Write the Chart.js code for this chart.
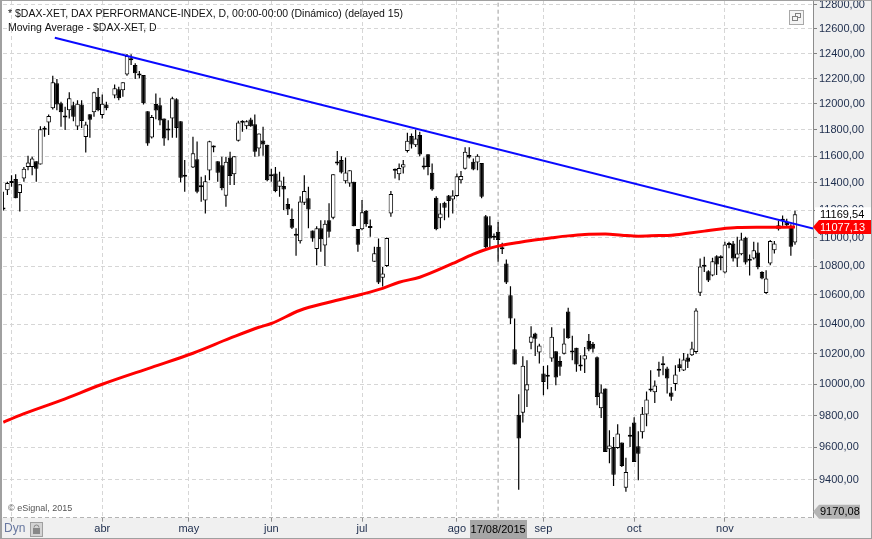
<!DOCTYPE html>
<html><head><meta charset="utf-8">
<style>html,body{margin:0;padding:0;background:#fff;overflow:hidden}#c{display:block}</style>
<script src="https://cdn.jsdelivr.net/npm/chart.js@4.4.1/dist/chart.umd.min.js"></script>
</head><body>
<canvas id="c" width="872" height="539"></canvas>
<script>
// Daily candles, one slot per trading day (26 Feb 2015 = slot 0); null = empty holiday slot
const opens  = [11212,11345,11400,11428,11325,11433,11519,11519,11562,11537,11800,11857,11966,12162,12005,11895,11952,11991,11826,11997,11745,11921,11935,12057,11914,11997,null,12066,12115,12107,12233,12362,12308,12225,12228,11943,11742,11999,11991,11888,11795,11888,12038,11866,11445,null,11515,11577,11375,11271,11492,11665,11562,11532,11305,11590,11465,11717,11855,11828,11879,11843,11658,11719,11687,11450,11470,11371,11377,11244,11135,11015,10975,11254,11286,11053,10920,11068,10946,11126,11144,11545,11570,11413,11396,11408,11063,11061,11195,11070,10830,10937,10719,10801,11176,11490,11465,11514,11638,11752,11683,11760,11515,11615,11475,11290,11141,11254,11307,11278,11303,11420,11506,11608,11557,11552,11549,11156,11091,11000,11043,10925,10818,10597,10231,9805,9818,9960,10275,10337,10209,10072,10050,10170,10218,10153,10202,10486,10210,10242,10117,10163,10288,10268,10178,9847,9973,9587,9601,9595,9629,9351,9665,9756,9606,9694,9806,9960,9949,10090,10125,10104,9948,10003,10132,10091,10176,10191,10213,10615,10795,10764,10734,10869,10855,10755,10948,10960,10853,10884,11000,10838,10853,10896,10759,10612,10818,10912,11061,11122,11114,11087,10967];
const highs  = [11335,11408,11457,11465,11389,11519,11602,11595,11562,11828,11828,11919,12222,12196,12017,11979,12091,12017,12030,12030,11862,11921,12096,12125,12075,12017,null,12154,12136,12170,12396,12394,12322,12260,12228,11943,11914,12082,12049,11888,11874,12057,12044,11866,11570,null,11747,11710,11445,11457,11717,11680,11562,11595,11595,11633,11600,11870,11874,11874,11893,11919,11772,11823,11687,11506,11519,11482,11445,11286,11212,11068,11301,11457,11371,11053,11083,11126,11126,11250,11465,11638,11600,11590,11495,11408,11063,11273,11200,11131,10937,10996,10794,11003,11340,11507,11544,11570,11777,11772,11803,11785,11590,11615,11544,11301,11250,11261,11310,11345,11470,11489,11667,11667,11583,11615,11549,11164,11156,11031,11114,10965,10846,10659,10438,9936,10185,10159,10386,10342,10268,10121,10126,10379,10218,10185,10370,10511,10322,10242,10191,10246,10334,10279,10183,10000,9973,9707,9664,9744,9629,9535,9729,9789,9700,9855,9954,10093,10025,10148,10185,10115,9984,10126,10170,10207,10202,10282,10507,10854,10866,10771,10858,10876,10876,10972,10972,10977,11007,11036,11007,10882,10972,10967,10764,10771,10984,10977,11122,11160,11138,11097,11195];
const lows   = [11198,11310,11371,11286,11190,11408,11495,11457,11408,11537,11747,11760,11958,11951,11823,11798,11888,11866,11798,11815,11628,11739,11901,11944,11888,11952,null,12044,12030,12057,12222,12308,12196,12202,11997,11678,11734,11882,11836,11678,11721,11739,11739,11404,11335,null,11510,11323,11261,11176,11420,11630,11408,11345,11224,11384,11384,11710,11785,11805,11823,11595,11600,11602,11413,11408,11330,11298,11200,11164,11063,10873,10960,11237,11068,10972,10805,10901,10801,11003,11133,11532,11470,11396,11371,11083,10901,11055,11079,11007,10830,10675,10657,10794,11151,11433,11420,11470,11628,11658,11670,11600,11500,11457,11342,11055,11068,11126,11146,11176,11298,11396,11500,11583,11495,11495,11286,10925,10925,10984,10830,10885,10675,10401,10130,9338,9755,9855,10231,10187,10137,9930,9969,10148,9995,10056,10197,10301,10159,10082,10089,10075,10218,10209,9866,9784,9570,9500,9361,9591,9478,9326,9601,9508,9396,9654,9732,9952,9880,10050,10060,9941,9894,9959,10082,10087,10108,10187,10202,10592,10759,10689,10729,10738,10771,10747,10925,10832,10794,10877,10811,10734,10846,10778,10708,10606,10806,10889,11053,11087,11078,10873,10950];
const closes = [11205,11400,11410,11286,11389,11506,11552,11583,11506,11805,11805,11906,12170,11997,11935,11905,12044,11901,12002,11869,11842,11877,12091,11952,12002,11966,null,12123,12044,12170,12380,12346,12243,12230,12005,11696,11898,11950,11872,11734,11811,12044,11815,11438,11455,null,11621,11335,11368,11413,11713,11670,11475,11360,11557,11452,11600,11856,11862,11866,11828,11633,11772,11689,11420,11460,11340,11418,11352,11205,11072,11020,11262,11340,11205,10996,11068,10989,11102,11043,11465,11552,11478,11478,11495,11083,10951,11185,11097,11078,10890,10685,10747,10998,11318,11498,11511,11539,11717,11688,11734,11613,11522,11519,11352,11061,11176,11217,11266,11307,11450,11452,11633,11590,11500,11602,11298,10932,10996,11006,10984,10918,10685,10438,10130,9654,10123,10001,10317,10301,10256,10016,10060,10315,10045,10116,10270,10305,10216,10130,10130,10191,10229,10235,9918,9948,9570,9611,9429,9686,9484,9446,9672,9508,9559,9812,9902,9968,9993,10096,10132,10038,9920,10065,10108,10163,10148,10236,10493,10797,10805,10699,10834,10811,10862,10953,10955,10853,10889,10988,10825,10846,10912,10792,10713,10713,10977,10960,11090,11130,11090,10937,11169.54];

// 200-day moving average
const maSlots  = [0,4,14,24,36,46,55,62,65,72,79,87,92,96,101,109,114,117,120,125,128,133,137,141,146,150,154,159,162,166,170,174,178,184,192];
const maValues = [9757,9801,9897,10001,10112,10205,10305,10379,10404,10494,10549,10604,10644,10687,10722,10818,10884,10917,10941,10967,10981,11000,11014,11024,11027,11019,11012,11017,11019,11033,11048,11064,11074,11076,11077.13];

// Blue trend line end points
const trendSlots  = [12.5, 196.4];
const trendValues = [12528, 11067];

// Axis ticks
const monthSlots  = [2, 24, 45, 65, 87, 110, 131, 153, 175];
const monthLabels = ['', 'abr', 'may', 'jun', 'jul', 'ago', 'sep', 'oct', 'nov'];
const yTicks = [9400,9600,9800,10000,10200,10400,10600,10800,11000,11200,11400,11600,11800,12000,12200,12400,12600,12800];
const yMin = 9170.08, yMax = 12831;
const xMin = -0.07, xMax = 196.37;
const crossSlot = 120, crossLabel = '17/08/2015';

const title1 = '* $DAX-XET, DAX PERFORMANCE-INDEX, D, 00:00-00:00 (Dinámico) (delayed 15)';
const title2 = 'Moving Average - $DAX-XET, D';

const slots = opens.map((o, i) => i).filter(i => opens[i] !== null);
const bodyData = slots.map(i => ({x: i, y: [opens[i], closes[i]]}));
const wickData = slots.map(i => ({x: i, y: [lows[i], highs[i]]}));
const bodyColors = slots.map(i => closes[i] >= opens[i] ? '#ffffff' : '#000000');
const maData = maSlots.map((s, k) => ({x: s, y: maValues[k]}));
const trendData = trendSlots.map((s, k) => ({x: s, y: trendValues[k]}));
const crossData = [{x: crossSlot, y: yMin}, {x: crossSlot, y: yMax}];

const FONT = '"Liberation Sans", Arial, sans-serif';
Chart.defaults.font.family = FONT;
Chart.defaults.font.size = 11;
Chart.defaults.color = '#1c2c4c';

function fmt(v) { return Number(v).toFixed(2).replace('.', ','); }

const decor = {
  id: 'decor',
  beforeDraw(chart) {
    const {ctx, chartArea: a, width: W, height: H} = chart;
    ctx.save();
    ctx.fillStyle = '#ffffff'; ctx.fillRect(0, 0, W, H);
    ctx.fillStyle = '#f0f0f0';
    ctx.fillRect(a.right, 0, W - a.right, H);
    ctx.fillRect(0, a.bottom, W, H - a.bottom);
    ctx.restore();
  },
  afterDraw(chart) {
    const {ctx, chartArea: a, width: W, height: H} = chart;
    const xs = chart.scales.x, ys = chart.scales.y;
    ctx.save();
    // dashed bottom edge of the plot
    ctx.strokeStyle = '#b4b4b4'; ctx.lineWidth = 1; ctx.setLineDash([4, 3]);
    ctx.beginPath(); ctx.moveTo(a.left, Math.round(a.bottom) - 0.5); ctx.lineTo(a.right, Math.round(a.bottom) - 0.5); ctx.stroke();
    ctx.setLineDash([]);
    // header
    ctx.font = '10.5px ' + FONT; ctx.fillStyle = '#111111';
    ctx.textAlign = 'left'; ctx.textBaseline = 'middle';
    ctx.fillText(title1, 8, 14);
    ctx.fillText(title2, 8, 28);
    // copyright
    ctx.font = '9px ' + FONT; ctx.fillStyle = '#555555';
    ctx.fillText('© eSignal, 2015', 8, 509);
    // restore icon
    ctx.fillStyle = '#f4f4f4'; ctx.fillRect(789, 10, 14, 14);
    ctx.strokeStyle = '#a8a8a8'; ctx.strokeRect(789.5, 10.5, 14, 14);
    ctx.strokeStyle = '#808080';
    ctx.strokeRect(795.5, 13.5, 5, 4);
    ctx.fillStyle = '#f4f4f4'; ctx.fillRect(792, 16, 6, 5);
    ctx.strokeRect(792.5, 16.5, 5, 4);
    // value tags on the price axis
    const tag = (val, cy, bg, fg, arrow, right) => {
      const x0 = a.right;
      ctx.fillStyle = bg;
      ctx.beginPath();
      if (arrow) {
        ctx.moveTo(x0, cy); ctx.lineTo(x0 + 6, cy - 7); ctx.lineTo(right, cy - 7);
        ctx.lineTo(right, cy + 7); ctx.lineTo(x0 + 6, cy + 7); ctx.closePath();
      } else {
        ctx.rect(x0 + 2, cy - 7, right - x0 - 2, 14);
      }
      ctx.fill();
      ctx.font = '11px ' + FONT; ctx.fillStyle = fg; ctx.textAlign = 'left'; ctx.textBaseline = 'middle';
      ctx.fillText(fmt(val), x0 + 7, cy + 0.5);
    };
    const lastClose = closes[closes.length - 1];
    const lastMa = maValues[maValues.length - 1];
    tag(lastClose, ys.getPixelForValue(lastClose), '#ffffff', '#000000', false, W);
    tag(lastMa, ys.getPixelForValue(lastMa), '#ff0000', '#ffffff', true, W);
    tag(yMin, a.bottom - 6, '#b4b4b4', '#000000', true, 860);
    // crosshair date box
    const cx = xs.getPixelForValue(crossSlot);
    ctx.fillStyle = '#a6a6a6'; ctx.fillRect(Math.round(cx - 28.5), 520, 57, 19);
    ctx.fillStyle = '#000000'; ctx.textAlign = 'center'; ctx.font = '11px ' + FONT;
    ctx.fillText(crossLabel, cx, 530);
    // Dyn + lock
    ctx.textAlign = 'left'; ctx.fillStyle = '#6878a0'; ctx.font = '12px ' + FONT;
    ctx.fillText('Dyn', 4, 529);
    ctx.fillStyle = '#d4d4d4'; ctx.fillRect(30, 522, 12, 14);
    ctx.strokeStyle = '#a0a0a0'; ctx.strokeRect(30.5, 522.5, 12, 14);
    ctx.strokeStyle = '#888888'; ctx.beginPath(); ctx.arc(36.5, 527.5, 2.5, Math.PI, 0); ctx.stroke();
    ctx.fillStyle = '#888888'; ctx.fillRect(33, 528, 7, 6);
    // frame
    ctx.strokeStyle = '#a0a0a0'; ctx.lineWidth = 1;
    ctx.strokeRect(0.5, 0.5, W - 1, H - 1);
    ctx.beginPath(); ctx.moveTo(1.5, 0); ctx.lineTo(1.5, H); ctx.stroke();
    ctx.restore();
  }
};

new Chart(document.getElementById('c'), {
  type: 'bar',
  data: {
    datasets: [
      { type: 'line', data: trendData, borderColor: '#0a0aff', borderWidth: 2, pointRadius: 0, fill: false, order: 0 },
      { type: 'line', data: maData, borderColor: '#ff0000', borderWidth: 3, pointRadius: 0, fill: false,
        cubicInterpolationMode: 'monotone', order: 1 },
      { type: 'bar', data: bodyData, backgroundColor: bodyColors, borderColor: '#000000', borderWidth: 1,
        borderSkipped: false, barThickness: 4.5, grouped: false, minBarLength: 2, inflateAmount: 0, order: 2 },
      { type: 'bar', data: wickData, backgroundColor: '#000000', borderWidth: 0,
        barThickness: 1.2, grouped: false, inflateAmount: 0, order: 3 },
      { type: 'line', data: crossData, borderColor: '#9c9c9c', borderWidth: 1, borderDash: [4, 3], pointRadius: 0, fill: false, order: 4 }
    ]
  },
  options: {
    responsive: false,
    animation: false,
    events: [],
    layout: { padding: { left: 3, top: 1, right: 0, bottom: 0 } },
    plugins: { legend: { display: false }, tooltip: { enabled: false } },
    scales: {
      x: {
        type: 'linear', min: xMin, max: xMax, offset: false,
        grid: { offset: false, color: '#d6d6d6', lineWidth: 1, drawTicks: true, tickLength: 4, tickColor: '#909090' },
        border: { display: false, dash: [4, 3] },
        ticks: { autoSkip: false, maxRotation: 0, padding: 1, color: '#1c2c4c', font: { size: 11 },
          callback: (v, i) => monthLabels[i] },
        afterBuildTicks: s => { s.ticks = monthSlots.map(v => ({ value: v })); },
        afterFit: s => { s.height = 21.3; s.paddingLeft = 0; s.paddingRight = 0; }
      },
      y: {
        type: 'logarithmic', position: 'right', min: yMin, max: yMax, bounds: 'data', beginAtZero: false,
        grid: { color: '#d6d6d6', lineWidth: 1, drawTicks: true, tickLength: 4, tickColor: '#808080' },
        border: { display: true, color: '#8c8c8c', width: 1, dash: [4, 3] },
        ticks: { autoSkip: false, padding: 2, color: '#1c2c4c', font: { size: 11 }, callback: v => fmt(v) },
        afterBuildTicks: s => { s.ticks = yTicks.map(v => ({ value: v })); },
        afterFit: s => { s.width = 59; s.paddingTop = 0; s.paddingBottom = 0; }
      }
    }
  },
  plugins: [decor]
});
</script>
</body></html>
